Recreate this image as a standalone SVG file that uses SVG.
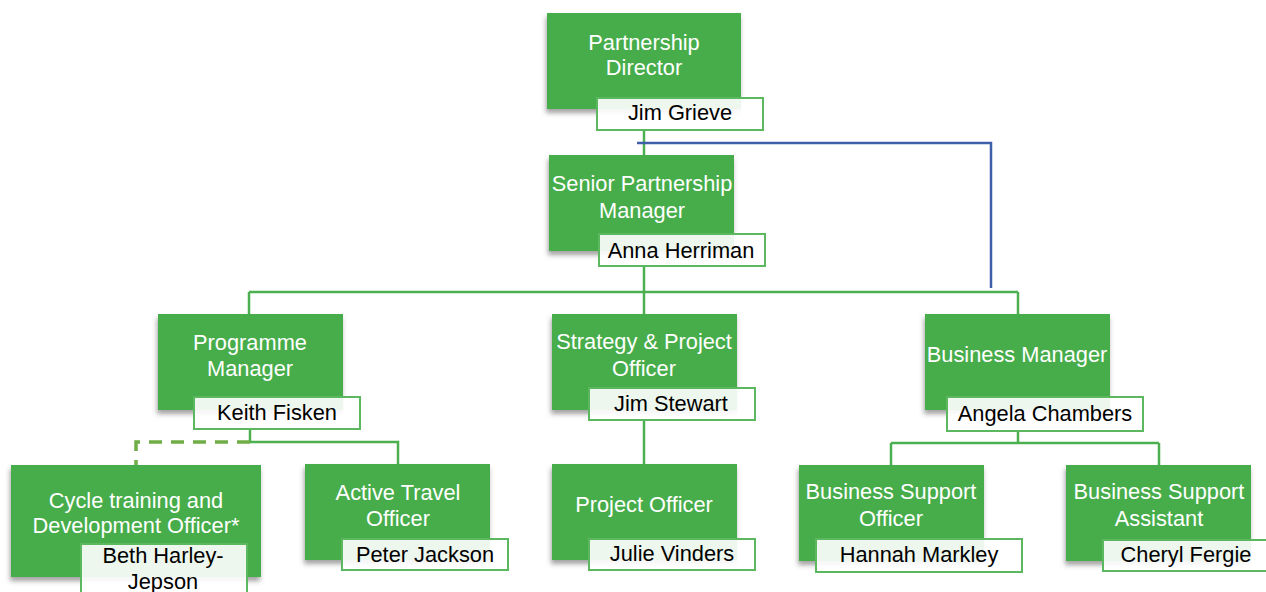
<svg xmlns="http://www.w3.org/2000/svg" width="1266" height="592" viewBox="0 0 1266 592">
<defs>
<filter id="sh" x="-20%" y="-20%" width="140%" height="150%">
<feDropShadow dx="-1" dy="4" stdDeviation="2.5" flood-color="#555" flood-opacity="0.55"/>
</filter>
<style>
.box{fill:#47ad4b;filter:url(#sh)}
.nm{fill:#ffffff;fill-opacity:0.9;stroke:#5cb85f;stroke-width:2}
.t{font-family:"Liberation Sans",Arial,sans-serif;font-size:21.8px;fill:#ffffff;text-anchor:middle}
.n{font-family:"Liberation Sans",Arial,sans-serif;font-size:21.8px;fill:#000000;text-anchor:middle}
.c{fill:none;stroke:#4caf50;stroke-width:2.5}
.d{fill:none;stroke:#70ad47;stroke-width:3.5;stroke-dasharray:13 9}
.b{fill:none;stroke:#3c5fa8;stroke-width:2.5}
</style>
</defs>
<rect width="1266" height="592" fill="#ffffff"/>
<g id="connectors">
<path class="c" d="M644 130V155"/>
<path class="c" d="M644 266V292M249 292H1018M249 292V314M644 292V314M1018 292V314"/>
<path class="b" d="M637 143H991V288"/>
<path class="c" d="M250 429V442H398V464"/>
<path class="d" d="M250 442H136V465"/>
<path class="c" d="M644 420V464"/>
<path class="c" d="M1018 431V443M891 443H1159M891 443V465M1159 443V465"/>
</g>
<g id="partnership-director">
<rect class="box" x="547" y="13" width="194" height="96"/>
<text class="t" x="644" y="50">Partnership</text>
<text class="t" x="644" y="75">Director</text>
<rect class="nm" x="597" y="98" width="166" height="32"/>
<text class="n" x="680" y="120">Jim Grieve</text>
</g>
<g id="senior-partnership-manager">
<rect class="box" x="549" y="155" width="185" height="96"/>
<text class="t" x="642" y="191">Senior Partnership</text>
<text class="t" x="642" y="218">Manager</text>
<rect class="nm" x="599" y="234" width="166" height="32"/>
<text class="n" x="681" y="258">Anna Herriman</text>
</g>
<g id="programme-manager">
<rect class="box" x="158" y="314" width="185" height="96"/>
<text class="t" x="250" y="350">Programme</text>
<text class="t" x="250" y="376">Manager</text>
<rect class="nm" x="194" y="397" width="166" height="32"/>
<text class="n" x="277" y="420">Keith Fisken</text>
</g>
<g id="strategy-project-officer">
<rect class="box" x="552" y="314" width="185" height="96"/>
<text class="t" x="644" y="349">Strategy &amp; Project</text>
<text class="t" x="644" y="376">Officer</text>
<rect class="nm" x="589" y="388" width="166" height="32"/>
<text class="n" x="671" y="411">Jim Stewart</text>
</g>
<g id="business-manager">
<rect class="box" x="925" y="314" width="185" height="96"/>
<text class="t" x="1017" y="362">Business Manager</text>
<rect class="nm" x="947" y="397" width="196" height="34"/>
<text class="n" x="1045" y="421">Angela Chambers</text>
</g>
<g id="cycle-training-officer">
<rect class="box" x="11" y="465" width="250" height="112"/>
<text class="t" x="136" y="508">Cycle training and</text>
<text class="t" x="136" y="533">Development Officer*</text>
<rect class="nm" x="81" y="544" width="166" height="52"/>
<text class="n" x="163" y="563">Beth Harley-</text>
<text class="n" x="163" y="589">Jepson</text>
</g>
<g id="active-travel-officer">
<rect class="box" x="305" y="464" width="185" height="96"/>
<text class="t" x="398" y="500">Active Travel</text>
<text class="t" x="398" y="526">Officer</text>
<rect class="nm" x="342" y="539" width="166" height="31"/>
<text class="n" x="425" y="562">Peter Jackson</text>
</g>
<g id="project-officer">
<rect class="box" x="552" y="464" width="185" height="96"/>
<text class="t" x="644" y="512">Project Officer</text>
<rect class="nm" x="589" y="539" width="166" height="31"/>
<text class="n" x="672" y="561">Julie Vinders</text>
</g>
<g id="business-support-officer">
<rect class="box" x="799" y="465" width="185" height="96"/>
<text class="t" x="891" y="499">Business Support</text>
<text class="t" x="891" y="526">Officer</text>
<rect class="nm" x="816" y="539" width="206" height="33"/>
<text class="n" x="919" y="562">Hannah Markley</text>
</g>
<g id="business-support-assistant">
<rect class="box" x="1066" y="465" width="185" height="96"/>
<text class="t" x="1159" y="499">Business Support</text>
<text class="t" x="1159" y="526">Assistant</text>
<rect class="nm" x="1103" y="540" width="166" height="31"/>
<text class="n" x="1186" y="562">Cheryl Fergie</text>
</g>
</svg>
